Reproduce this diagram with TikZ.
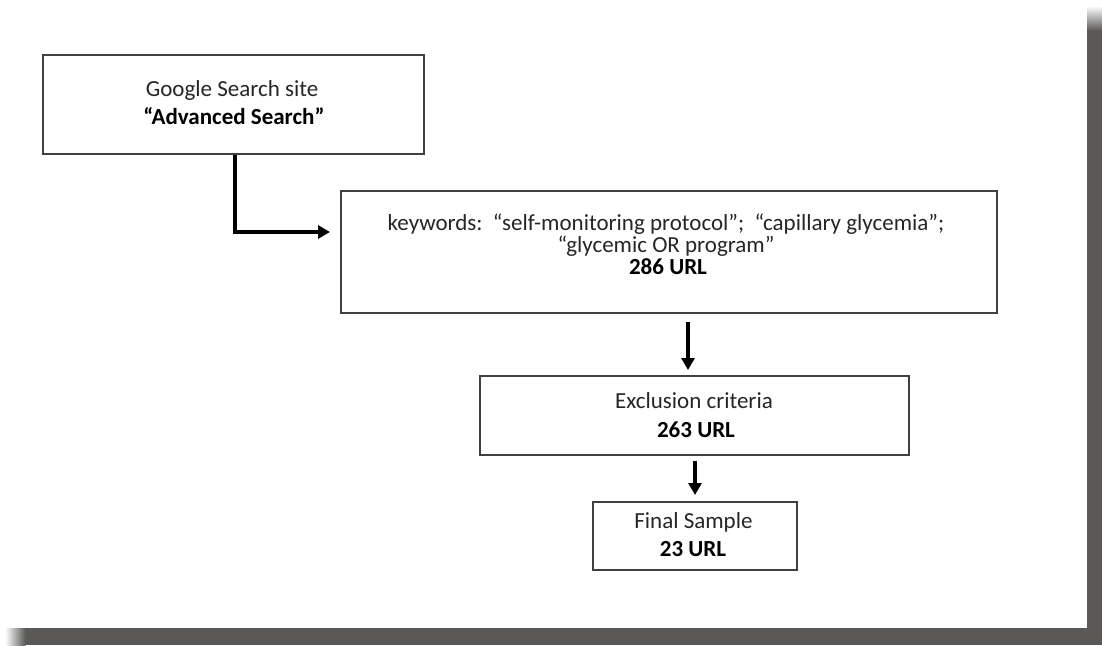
\documentclass[tikz,border=0pt]{standalone}
\usepackage{fontspec}
\setmainfont{Carlito}
\usetikzlibrary{arrows.meta}
\definecolor{shadowgray}{HTML}{5A5958}
\definecolor{boxline}{HTML}{404040}
\definecolor{txt}{HTML}{262626}
\tikzset{
  box/.style={draw=boxline, line width=1.5pt, inner sep=0pt, anchor=north west, fill=white},
  lbl/.style={anchor=base, inner sep=0pt, text=txt, font=\fontsize{23}{28}\selectfont},
  blbl/.style={lbl, text=black, font=\fontsize{23}{28}\selectfont\bfseries},
  arr/.style={line width=3.5pt, black, -{Triangle[width=13pt,length=12pt]}}
}
\begin{document}
\begin{tikzpicture}[x=1pt,y=-1pt]
\useasboundingbox (0,0) rectangle (1102,645);
\fill[white] (0,0) rectangle (1102,645);
% page shadow
\fill[shadowgray] (1087,30) rectangle (1102,645);
\shade[top color=white, bottom color=shadowgray] (1087,6) rectangle (1102,30.5);
\fill[shadowgray] (25,628) rectangle (1102,645);
\shade[left color=white, right color=shadowgray] (5,628) rectangle (25.5,645);
% boxes
\node[box, minimum width=381pt, minimum height=99pt] (b1) at (42,54) {};
\node[box, minimum width=656pt, minimum height=122pt] (b2) at (340,190) {};
\node[box, minimum width=429pt, minimum height=79pt] (b3) at (479,375) {};
\node[box, minimum width=204pt, minimum height=68pt] (b4) at (592,501) {};
% texts
\node[lbl] (t1a) at (232,96.5) {Google Search site};
\node[blbl] (t1b) at (234,124) {“Advanced Search”};
\node[lbl] (t2a) at (666,230) {keywords:\ \ “self-monitoring protocol”;\ \ “capillary glycemia”;};
\node[lbl] (t2b) at (666,252) {“glycemic OR program”};
\node[blbl] (t2c) at (668,274) {286 URL};
\node[lbl] (t3a) at (694,408) {Exclusion criteria};
\node[blbl] (t3b) at (696,437) {263 URL};
\node[lbl] (t4a) at (693.5,528) {Final Sample};
\node[blbl] (t4b) at (693,556) {23 URL};
% connector x positions
\coordinate (x1) at (235,0);
\coordinate (y1) at (0,232);
\coordinate (x2) at (688,0);
\coordinate (x3) at (695,0);
% connectors
\draw[arr, shorten >=10pt] (b1.south -| x1) |- (b2.west |- y1);
\draw[arr, shorten <=8pt, shorten >=5pt] (b2.south -| x2) -- (b3.north -| x2);
\draw[arr, shorten <=5pt, shorten >=6pt] (b3.south -| x3) -- (b4.north -| x3);
\end{tikzpicture}
\end{document}
